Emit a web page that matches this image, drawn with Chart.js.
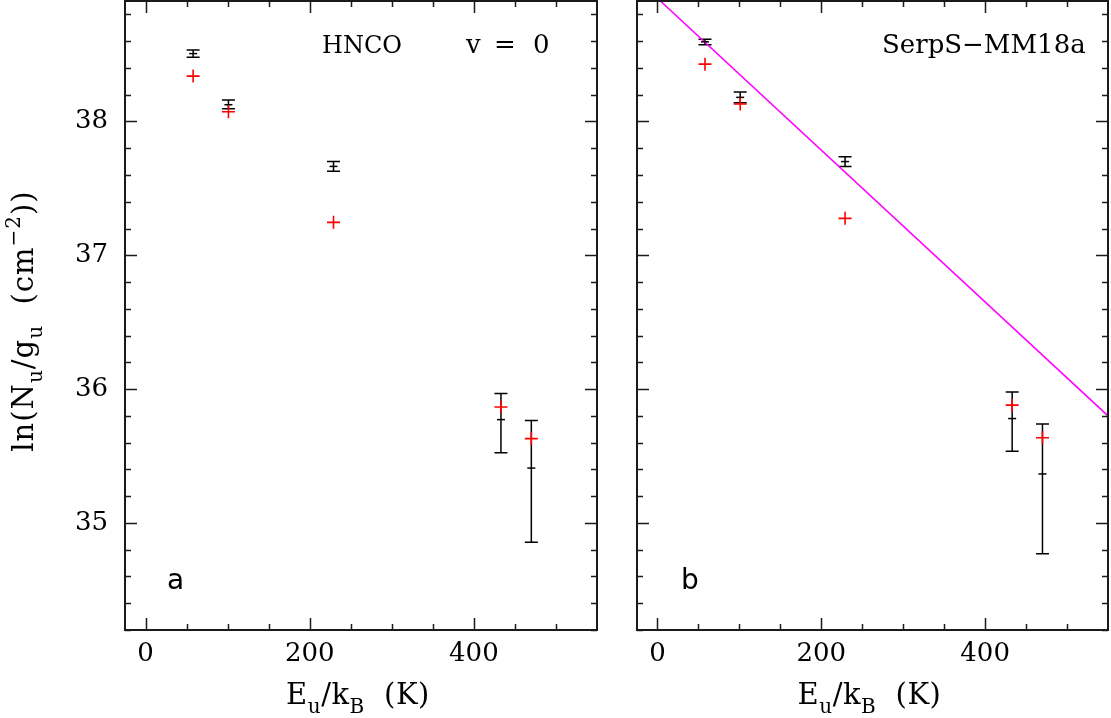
<!DOCTYPE html>
<html>
<head>
<meta charset="utf-8">
<script src="https://cdn.jsdelivr.net/npm/chart.js@4.4.1/dist/chart.umd.min.js"></script>
<style>
  html, body { margin: 0; padding: 0; background: #fff; }
  #wrap { position: relative; width: 1111px; height: 718px; overflow: hidden; }
  canvas { position: absolute; top: 0; }
  #left { left: 0; }
  #right { left: 617px; }
</style>
</head>
<body>
<div id="wrap">
  <canvas id="left" width="617" height="718"></canvas>
  <canvas id="right" width="494" height="718"></canvas>
</div>
<script>
// upper level energies (K), same transitions in both panels
const energies = [58, 101, 229, 433, 470];
const xTickValues = [0, 200, 400];
const yTickValues = [35, 36, 37, 38];

// panel a: observed ln(Nu/gu) with error bars, and model (red crosses)
const obsA = [38.507, 38.125, 37.664, 35.772, 35.410];
const obsLowA = [38.480, 38.094, 37.628, 35.525, 34.856];
const obsHighA = [38.534, 38.161, 37.700, 35.968, 35.766];
const modelA = [38.339, 38.072, 37.246, 35.866, 35.630];

// panel b
const obsB = [38.595, 38.180, 37.700, 35.780, 35.366];
const obsLowB = [38.573, 38.140, 37.663, 35.535, 34.770];
const obsHighB = [38.615, 38.220, 37.737, 35.978, 35.740];
const modelB = [38.428, 38.130, 37.276, 35.880, 35.637];

// rotation diagram fit in panel b
const fitX = [0, 550];
const fitY = [38.92, 35.80];

const SERIF = "'DejaVu Serif', serif";
Chart.defaults.font.family = SERIF;
Chart.defaults.color = '#000';

function drawRich(ctx, parts, x, y, size, align, spacing) {
  const fontOf = p => ((p.sub || p.sup) ? Math.round(size * 0.68) : size) + 'px ' + SERIF;
  ctx.letterSpacing = (spacing || 0) + 'px';
  let w = 0;
  parts.forEach(p => { ctx.font = fontOf(p); w += ctx.measureText(p.t).width; });
  let cx = align === 'center' ? x - w / 2 : x;
  ctx.textAlign = 'left';
  ctx.textBaseline = 'alphabetic';
  parts.forEach(p => {
    ctx.font = fontOf(p);
    const dy = p.sub ? size * 0.3 : (p.sup ? -size * 0.45 : 0);
    ctx.fillText(p.t, cx, y + dy);
    cx += ctx.measureText(p.t).width;
  });
  ctx.letterSpacing = '0px';
}

const xTitle = [{t: 'E'}, {t: 'u', sub: true}, {t: '/k'}, {t: 'B', sub: true}, {t: '  (K)'}];
const yTitle = [{t: 'ln(N'}, {t: 'u', sub: true}, {t: '/g'}, {t: 'u', sub: true},
                {t: '  (cm'}, {t: '\u22122', sup: true}, {t: '))'}];

const framePlugin = {
  id: 'frame',
  beforeDatasetsDraw(chart) {
    const {ctx, scales: {x, y}} = chart;
    ctx.save();
    ctx.strokeStyle = '#000';
    ctx.lineWidth = 1.5;
    chart.data.datasets.forEach(ds => {
      if (!ds.errLow) return;
      ds.data.forEach((p, i) => {
        const px = x.getPixelForValue(p.x);
        const lo = y.getPixelForValue(ds.errLow[i]);
        const hi = y.getPixelForValue(ds.errHigh[i]);
        ctx.beginPath();
        ctx.moveTo(px, lo); ctx.lineTo(px, hi);
        ctx.moveTo(px - 6.5, lo); ctx.lineTo(px + 6.5, lo);
        ctx.moveTo(px - 6.5, hi); ctx.lineTo(px + 6.5, hi);
        ctx.stroke();
      });
    });
    ctx.restore();
  },
  afterDatasetsDraw(chart) {
    const {ctx, chartArea: a, scales: {x, y}} = chart;
    ctx.save();
    ctx.strokeStyle = '#1a1a1a';
    ctx.lineWidth = 1.5;
    ctx.beginPath();
    for (let v = 0; v < x.max; v += 50) {
      const px = Math.round(x.getPixelForValue(v)) + 0.5;
      const len = v % 200 === 0 ? 12 : 6;
      ctx.moveTo(px, a.bottom); ctx.lineTo(px, a.bottom - len);
      ctx.moveTo(px, a.top); ctx.lineTo(px, a.top + len);
    }
    for (let k = Math.ceil(y.min * 5); k <= Math.floor(y.max * 5); k++) {
      const py = Math.round(y.getPixelForValue(k / 5)) + 0.5;
      const len = k % 5 === 0 ? 12 : 6;
      ctx.moveTo(a.left, py); ctx.lineTo(a.left + len, py);
      ctx.moveTo(a.right, py); ctx.lineTo(a.right - len, py);
    }
    ctx.stroke();
    ctx.lineWidth = 2;
    ctx.strokeRect(a.left, a.top, a.right - a.left, a.bottom - a.top);
    ctx.restore();
  },
  afterDraw(chart) {
    const {ctx, chartArea: a} = chart;
    const opt = chart.config.options.panel;
    ctx.save();
    ctx.fillStyle = '#000';
    opt.texts.forEach(t => {
      ctx.font = t.size + 'px ' + (t.font || SERIF);
      ctx.textAlign = 'left';
      ctx.textBaseline = 'alphabetic';
      ctx.fillText(t.text, t.x, t.y);
    });
    drawRich(ctx, xTitle, (a.left + a.right) / 2 - 3, 704, 29, 'center', 0.5);
    if (opt.yTitle) {
      ctx.translate(33, 321);
      ctx.rotate(-Math.PI / 2);
      drawRich(ctx, yTitle, 0, 0, 29, 'center', 1);
    }
    ctx.restore();
  }
};

function noPad(s) {
  s.paddingTop = 0; s.paddingBottom = 0; s.paddingLeft = 0; s.paddingRight = 0;
}

function makePanel(id, panel) {
  const pts = ys => energies.map((x, i) => ({x: x, y: ys[i]}));
  const datasets = [
    {
      label: 'model', data: pts(panel.model),
      pointStyle: 'cross', pointRadius: 6.5, borderColor: '#ff0000',
      backgroundColor: '#ff0000', borderWidth: 1.6
    },
    {
      label: 'observed', data: pts(panel.obs), errLow: panel.low, errHigh: panel.high,
      pointStyle: 'line', pointRadius: 4, borderColor: '#000',
      backgroundColor: '#000', borderWidth: 1.5
    }
  ];
  if (panel.fit) {
    datasets.push({
      type: 'line', label: 'fit', data: fitX.map((x, i) => ({x: x, y: fitY[i]})),
      borderColor: '#ff00ff', borderWidth: 1.5, pointRadius: 0, fill: false, tension: 0
    });
  }
  return new Chart(document.getElementById(id), {
    type: 'scatter',
    data: {datasets: datasets},
    plugins: [framePlugin],
    options: {
      panel: panel,
      responsive: false,
      animation: false,
      events: [],
      layout: {autoPadding: false, padding: {top: 1, right: panel.padRight, left: 0, bottom: 0}},
      plugins: {legend: {display: false}, tooltip: {enabled: false}},
      scales: {
        x: {
          type: 'linear', min: -25, max: 550,
          grid: {display: false, drawTicks: false},
          border: {display: false},
          afterBuildTicks: s => { s.ticks = xTickValues.map(v => ({value: v})); },
          afterFit: s => { s.height = 88; noPad(s); },
          ticks: {padding: 9, color: '#000', font: {size: 26}, maxRotation: 0}
        },
        y: {
          type: 'linear', min: 34.2, max: 38.9,
          grid: {display: false, drawTicks: false},
          border: {display: false},
          afterBuildTicks: s => { s.ticks = yTickValues.map(v => ({value: v})); },
          afterFit: s => { s.width = panel.yWidth; noPad(s); },
          ticks: {display: panel.yLabels, padding: 17, color: '#000', font: {size: 26}}
        }
      }
    }
  });
}

makePanel('left', {
  obs: obsA, low: obsLowA, high: obsHighA, model: modelA, fit: false,
  yWidth: 125, padRight: 20, yLabels: true, yTitle: true,
  texts: [
    {text: 'HNCO', x: 322, y: 53, size: 24},
    {text: 'v', x: 466, y: 53, size: 26},
    {text: '=', x: 494, y: 53, size: 26},
    {text: '0', x: 533, y: 53, size: 26},
    {text: 'a', x: 167, y: 589, size: 28, font: "'DejaVu Sans', sans-serif"}
  ]
});

makePanel('right', {
  obs: obsB, low: obsLowB, high: obsHighB, model: modelB, fit: true,
  yWidth: 20, padRight: 3, yLabels: false, yTitle: false,
  texts: [
    {text: 'SerpS\u2212MM18a', x: 882 - 617, y: 53, size: 26},
    {text: 'b', x: 681 - 617, y: 589, size: 28, font: "'DejaVu Sans', sans-serif"}
  ]
});
</script>
</body>
</html>
